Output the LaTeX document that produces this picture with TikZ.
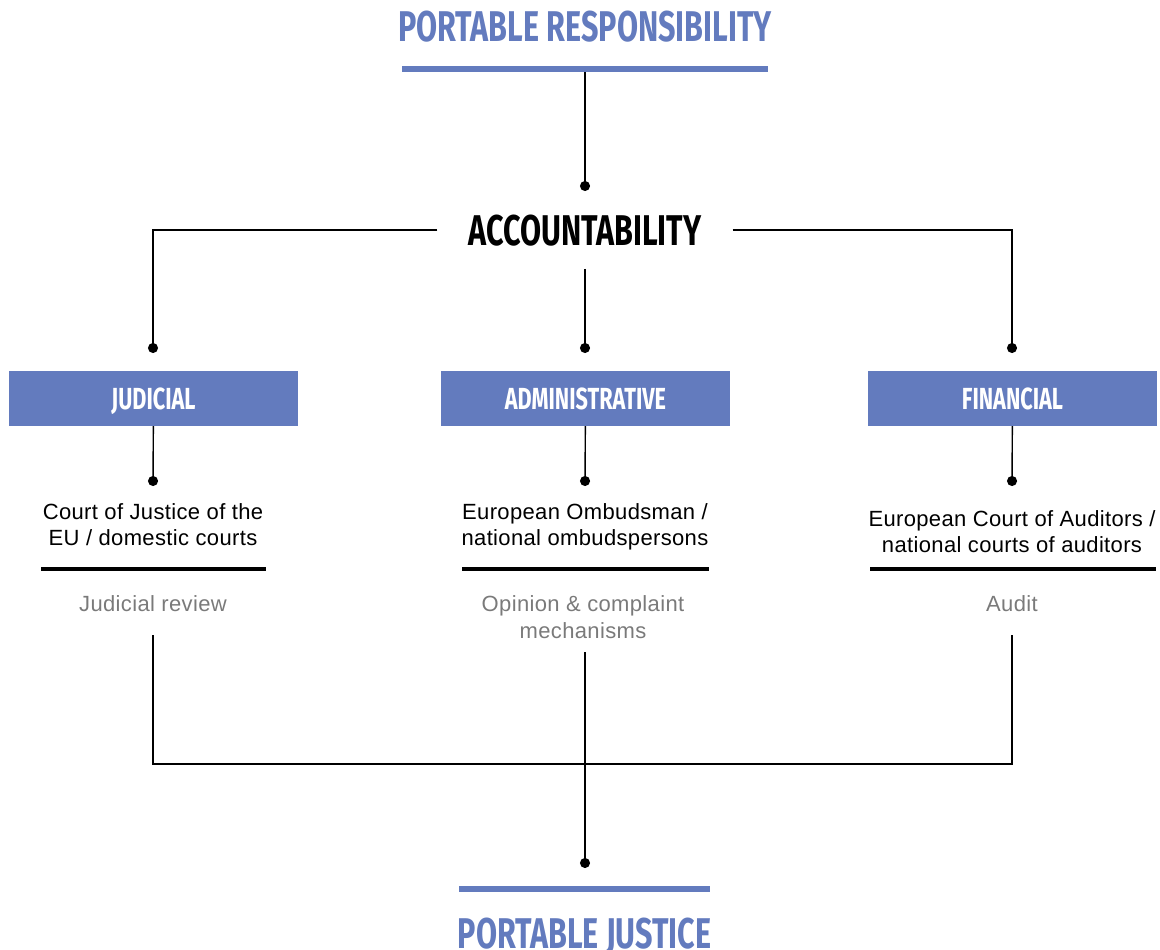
\documentclass[tikz,border=0pt]{standalone}
\usepackage{fontspec}
\setmainfont{Liberation Sans}[LetterSpace=1.6]
\newfontfamily\headfont[FakeStretch=0.71]{Fira Sans}
\usetikzlibrary{arrows.meta}
\definecolor{portblue}{RGB}{99,123,190}
\definecolor{notegray}{RGB}{122,122,122}

\begin{document}
\begin{tikzpicture}[x=1pt,y=-1pt]
\tikzstyle{every node}+=[inner sep=0pt]
\tikzstyle{title}=[font=\headfont\bfseries\fontsize{43}{43}\selectfont, text=portblue]
\tikzstyle{head}=[font=\headfont\bfseries\fontsize{43}{43}\selectfont, text=black]
\tikzstyle{catbox}=[fill=portblue, minimum width=289pt, minimum height=55pt, text depth=0pt, text=white, font=\headfont\bfseries\fontsize{30.5}{30.5}\selectfont]
\tikzstyle{body}=[align=center, font=\fontsize{22}{26}\selectfont, anchor=north]
\tikzstyle{note}=[align=center, font=\fontsize{22}{27}\selectfont, text=notegray, anchor=north]
\tikzstyle{bluebar}=[fill=portblue, minimum height=6pt]
\tikzstyle{blackbar}=[fill=black, minimum height=4pt]
\tikzstyle{link}=[line width=1.4pt, -{Circle[length=10pt]}]
\useasboundingbox (0,0) rectangle (1160,950);

% top
\node [title, anchor=base] (resp) at (585,42) {PORTABLE RESPONSIBILITY};
\node [bluebar, minimum width=366pt] (respbar) at (585,69) {};
\node [head, anchor=base, inner xsep=31pt, inner ysep=23pt] (acc) at (585,245) {ACCOUNTABILITY};
\coordinate (accdot) at (585,191);
\draw [link] (respbar) -- (accdot);

% categories
\node [catbox] (jud) at (153.5,398.5) {JUDICIAL};
\node [catbox] (adm) at (585.5,398.5) {ADMINISTRATIVE};
\node [catbox] (fin) at (1012.5,398.5) {FINANCIAL};
\coordinate (juddot) at (153,353);
\coordinate (admdot) at (585,353);
\coordinate (findot) at (1012,353);
\draw [link] (acc.west) -| (juddot);
\draw [link] (acc.south) -- (admdot);
\draw [link] (acc.east) -| (findot);

% bodies
\node [body] (judbody) at (153,503) {Court of Justice of the\\EU / domestic courts};
\node [body] (admbody) at (585,503) {European Ombudsman /\\national ombudspersons};
\node [body] (finbody) at (1012,510) {European Court of Auditors /\\national courts of auditors};
\coordinate (judsub) at (153,486);
\coordinate (admsub) at (585,486);
\coordinate (finsub) at (1012,486);
\draw [link] (jud) -- (judsub);
\draw [link] (adm) -- (admsub);
\draw [link] (fin) -- (finsub);
\node [blackbar, minimum width=225pt] (judrule) at (153.5,569) {};
\node [blackbar, minimum width=247pt] (admrule) at (585.5,569) {};
\node [blackbar, minimum width=286pt] (finrule) at (1013,569) {};

% notes
\node [note] (judnote) at (153,595) {Judicial review};
\node [note] (admnote) at (583,595) {Opinion \& complaint\\mechanisms};
\node [note] (finnote) at (1012,595) {Audit};

% bottom
\coordinate (judfoot) at (153,635);
\coordinate (finfoot) at (1012,635);
\coordinate (admfoot) at (585,652);
\coordinate (join) at (585,764);
\coordinate (justdot) at (585,868);
\draw [line width=1.4pt] (judfoot) -- (judfoot |- join) -- (finfoot |- join) -- (finfoot);
\draw [link] (admfoot) -- (justdot);
\node [bluebar, minimum width=251pt] (justbar) at (584.5,889) {};
\node [title, anchor=base] (just) at (584.5,948) {PORTABLE JUSTICE};
\end{tikzpicture}
\end{document}
